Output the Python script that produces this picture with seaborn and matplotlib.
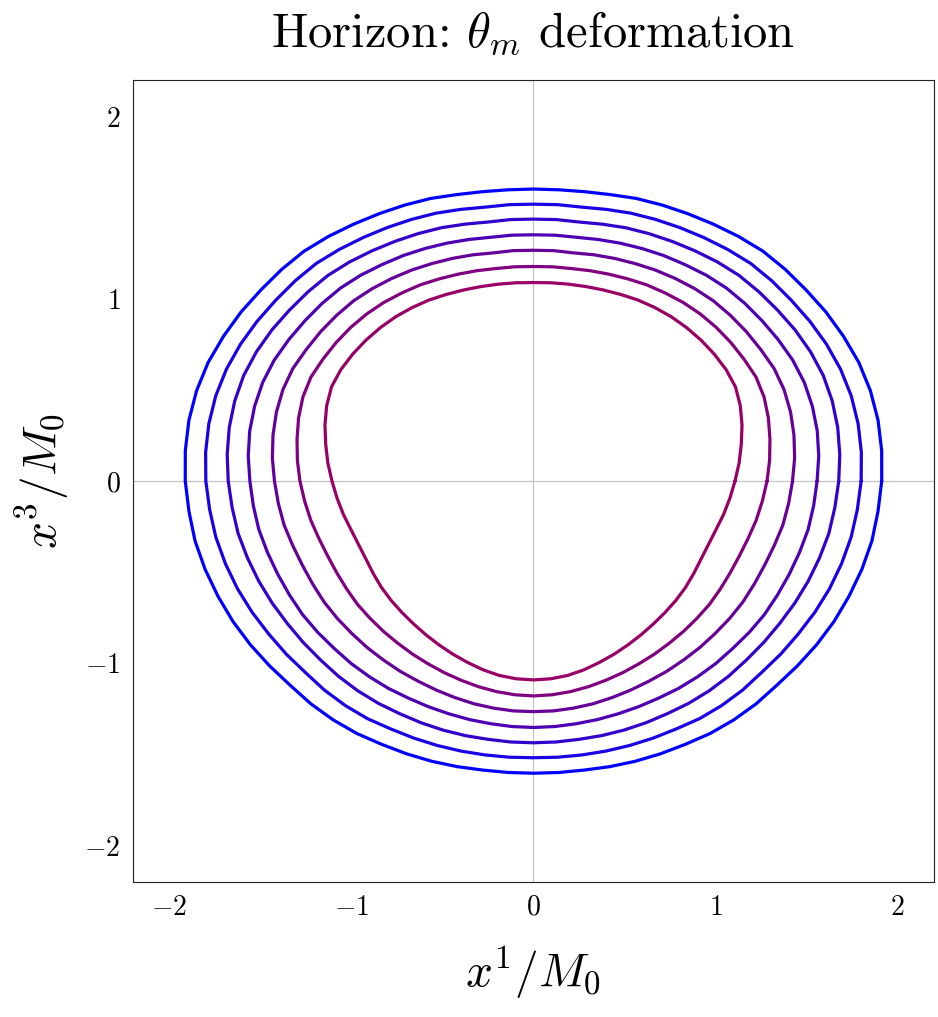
import matplotlib

matplotlib.use("Agg")
import matplotlib.pyplot as plt
import numpy as np
import pandas as pd
import seaborn as sns

# polar angle in the x1-x3 plane, measured from +x1 (degrees)
ANGLES_DEG = list(range(0, 360, 5))

# horizon radius (units of M0) at each angle, outermost (blue) to innermost
R_1 = [1.913, 1.920, 1.922, 1.916, 1.902, 1.879, 1.855, 1.828, 1.806, 1.783,
       1.752, 1.721, 1.694, 1.671, 1.650, 1.627, 1.612, 1.604,
       1.602, 1.604, 1.612, 1.627, 1.650, 1.671, 1.694, 1.721, 1.752, 1.783,
       1.806, 1.828, 1.855, 1.879, 1.902, 1.916, 1.922, 1.920, 1.913, 1.900,
       1.888, 1.868, 1.845, 1.822, 1.796, 1.769, 1.744, 1.729, 1.711, 1.691,
       1.668, 1.651, 1.636, 1.622, 1.610, 1.605, 1.603,
       1.605, 1.610, 1.622, 1.636, 1.651, 1.668, 1.691, 1.711, 1.729, 1.744,
       1.769, 1.796, 1.822, 1.845, 1.868, 1.888, 1.900]
R_2 = [1.800, 1.808, 1.811, 1.807, 1.795, 1.776, 1.753, 1.729, 1.709, 1.688,
       1.659, 1.631, 1.606, 1.584, 1.564, 1.543, 1.526, 1.522,
       1.519, 1.522, 1.526, 1.543, 1.564, 1.584, 1.606, 1.631, 1.659, 1.688,
       1.709, 1.729, 1.753, 1.776, 1.795, 1.807, 1.811, 1.808, 1.800, 1.786,
       1.772, 1.752, 1.730, 1.705, 1.679, 1.657, 1.635, 1.623, 1.608, 1.591,
       1.570, 1.556, 1.544, 1.534, 1.526, 1.521, 1.518,
       1.521, 1.526, 1.534, 1.544, 1.556, 1.570, 1.591, 1.608, 1.623, 1.635,
       1.657, 1.679, 1.705, 1.730, 1.752, 1.772, 1.786]
R_3 = [1.677, 1.689, 1.697, 1.699, 1.694, 1.679, 1.659, 1.636, 1.616, 1.596,
       1.570, 1.543, 1.519, 1.498, 1.479, 1.459, 1.443, 1.440,
       1.437, 1.440, 1.443, 1.459, 1.479, 1.498, 1.519, 1.543, 1.570, 1.596,
       1.616, 1.636, 1.659, 1.679, 1.694, 1.699, 1.697, 1.689, 1.677, 1.662,
       1.648, 1.627, 1.606, 1.584, 1.562, 1.544, 1.527, 1.515, 1.502, 1.488,
       1.473, 1.463, 1.454, 1.446, 1.439, 1.437, 1.436,
       1.437, 1.439, 1.446, 1.454, 1.463, 1.473, 1.488, 1.502, 1.515, 1.527,
       1.544, 1.562, 1.584, 1.606, 1.627, 1.648, 1.662]
R_4 = [1.558, 1.573, 1.583, 1.586, 1.583, 1.571, 1.552, 1.533, 1.516, 1.498,
       1.475, 1.450, 1.429, 1.408, 1.389, 1.372, 1.358, 1.354,
       1.351, 1.354, 1.358, 1.372, 1.389, 1.408, 1.429, 1.450, 1.475, 1.498,
       1.516, 1.533, 1.552, 1.571, 1.583, 1.586, 1.583, 1.573, 1.558, 1.545,
       1.532, 1.513, 1.495, 1.479, 1.465, 1.447, 1.429, 1.416, 1.402, 1.389,
       1.375, 1.366, 1.359, 1.355, 1.352, 1.352, 1.352,
       1.352, 1.352, 1.355, 1.359, 1.366, 1.375, 1.389, 1.402, 1.416, 1.429,
       1.447, 1.465, 1.479, 1.495, 1.513, 1.532, 1.545]
R_5 = [1.423, 1.440, 1.453, 1.462, 1.465, 1.459, 1.442, 1.428, 1.413, 1.398,
       1.378, 1.357, 1.337, 1.317, 1.300, 1.285, 1.271, 1.269,
       1.266, 1.269, 1.271, 1.285, 1.300, 1.317, 1.337, 1.357, 1.378, 1.398,
       1.413, 1.428, 1.442, 1.459, 1.465, 1.462, 1.453, 1.440, 1.423, 1.407,
       1.391, 1.369, 1.351, 1.338, 1.328, 1.315, 1.302, 1.292, 1.282, 1.275,
       1.268, 1.265, 1.264, 1.265, 1.265, 1.266, 1.265,
       1.266, 1.265, 1.265, 1.264, 1.265, 1.268, 1.275, 1.282, 1.292, 1.302,
       1.315, 1.328, 1.338, 1.351, 1.369, 1.391, 1.407]
R_6 = [1.283, 1.302, 1.319, 1.336, 1.348, 1.349, 1.336, 1.324, 1.311, 1.296,
       1.279, 1.260, 1.243, 1.224, 1.208, 1.195, 1.184, 1.180,
       1.177, 1.180, 1.184, 1.195, 1.208, 1.224, 1.243, 1.260, 1.279, 1.296,
       1.311, 1.324, 1.336, 1.349, 1.348, 1.336, 1.319, 1.302, 1.283, 1.262,
       1.242, 1.220, 1.203, 1.192, 1.185, 1.180, 1.172, 1.166, 1.161, 1.159,
       1.158, 1.160, 1.163, 1.168, 1.173, 1.177, 1.179,
       1.177, 1.173, 1.168, 1.163, 1.160, 1.158, 1.159, 1.161, 1.166, 1.172,
       1.180, 1.185, 1.192, 1.203, 1.220, 1.242, 1.262]
R_7 = [1.107, 1.134, 1.159, 1.186, 1.209, 1.224, 1.222, 1.213, 1.202, 1.190,
       1.177, 1.162, 1.147, 1.130, 1.116, 1.105, 1.097, 1.092,
       1.089, 1.092, 1.097, 1.105, 1.116, 1.130, 1.147, 1.162, 1.177, 1.190,
       1.202, 1.213, 1.222, 1.224, 1.209, 1.186, 1.159, 1.134, 1.107, 1.083,
       1.060, 1.037, 1.022, 1.015, 1.016, 1.019, 1.020, 1.021, 1.024, 1.030,
       1.038, 1.048, 1.059, 1.072, 1.083, 1.089, 1.091,
       1.089, 1.083, 1.072, 1.059, 1.048, 1.038, 1.030, 1.024, 1.021, 1.020,
       1.019, 1.016, 1.015, 1.022, 1.037, 1.060, 1.083]

RADII = [R_1, R_2, R_3, R_4, R_5, R_6, R_7]
CURVE_NAMES = ["c1", "c2", "c3", "c4", "c5", "c6", "c7"]

TICKS = [-2, -1, 0, 1, 2]
TICK_LABELS = [r"$-2$", r"$-1$", r"$0$", r"$1$", r"$2$"]

# blue -> purple -> crimson
COLORS = ["#0000ff", "#1a00e6", "#3300cc", "#4d00b3", "#660099",
          "#800080", "#990066"]


def build_long() -> pd.DataFrame:
    frames = []
    theta = np.deg2rad(ANGLES_DEG + [ANGLES_DEG[0]])
    for name, r in zip(CURVE_NAMES, RADII):
        rr = np.array(r + [r[0]])  # close the loop
        frames.append(pd.DataFrame({
            "x": rr * np.cos(theta),
            "y": rr * np.sin(theta),
            "curve": name,
        }))
    return pd.concat(frames, ignore_index=True)


def main() -> None:
    sns.set_theme(style="white")
    plt.rcParams["font.family"] = ["cmr10", "DejaVu Serif"]
    plt.rcParams["mathtext.fontset"] = "cm"
    plt.rcParams["axes.formatter.use_mathtext"] = True
    plt.rcParams["text.color"] = "black"
    plt.rcParams["axes.labelcolor"] = "black"
    plt.rcParams["xtick.color"] = "black"
    plt.rcParams["ytick.color"] = "black"

    df = build_long()

    fig = plt.figure(figsize=(9.38, 10.17), dpi=100)
    ax = fig.add_axes([0.1418, 0.1327, 0.8539, 0.7886])

    ax.axhline(0, color="#c4c4c4", lw=0.9, zorder=0)
    ax.axvline(0, color="#c4c4c4", lw=0.9, zorder=0)

    sns.lineplot(
        data=df, x="x", y="y", hue="curve",
        palette=dict(zip(CURVE_NAMES, COLORS)),
        sort=False, estimator=None, linewidth=2.3,
        legend=False, ax=ax,
    )

    ax.set_xlim(-2.2, 2.2)
    ax.set_ylim(-2.2, 2.2)
    ax.set_xticks(TICKS)
    ax.set_xticklabels(TICK_LABELS)
    ax.set_yticks(TICKS)
    ax.set_yticklabels(TICK_LABELS)
    ax.tick_params(direction="in", length=6.5, width=0.8, color="black",
                   labelsize=20, pad=9)
    for sp in ax.spines.values():
        sp.set_color("#222222")
        sp.set_linewidth(0.8)

    ax.set_xlabel(r"$x^1/M_0$", fontsize=34, labelpad=17)
    ax.set_ylabel(r"$x^3/M_0$", fontsize=34, labelpad=10)
    ax.set_title(r"Horizon: $\theta_m$ deformation", fontsize=35, pad=24)

    fig.savefig("out.png", dpi=100)
    plt.close(fig)


if __name__ == "__main__":
    main()
